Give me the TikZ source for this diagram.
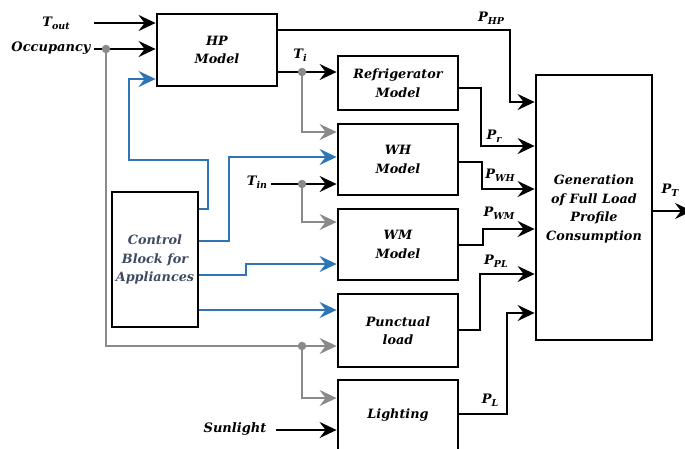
\documentclass[tikz,border=0pt]{standalone}
\usepackage{fontspec}
\setmainfont{DejaVu Serif}
\usetikzlibrary{arrows.meta}
\definecolor{cblue}{HTML}{2E75B6}
\definecolor{cgray}{HTML}{8A8A8A}
\definecolor{ctext}{HTML}{3E4A62}
\newcommand\sbs[1]{\raisebox{-0.45ex}{\fontsize{9.5}{9.5}\selectfont #1}}
\tikzset{
  box/.style={draw, line width=2.8pt, minimum width=120pt, align=center, inner sep=0pt,
    font=\fontsize{12.8}{18.5}\selectfont\bfseries\itshape},
  lbl/.style={inner sep=0pt, font=\fontsize{13}{14}\selectfont\bfseries\itshape},
  arr/.style={line width=2pt, -{Stealth[length=17pt,width=16pt,inset=6pt]}},
  plain/.style={line width=2pt},
  garr/.style={arr, draw=cgray, color=cgray},
  gline/.style={plain, draw=cgray},
  barr/.style={arr, draw=cblue, color=cblue},
  dotc/.style={circle, fill=cgray, inner sep=0pt, minimum size=8.5pt}
}
\begin{document}
\begin{tikzpicture}[x=1pt,y=-1pt]
\useasboundingbox (0,0) rectangle (685,448);
% boxes
\node[box, minimum height=72pt] (hp) at (217,50) {HP\\Model};
\node[box, minimum height=54pt] (fr) at (398,83) {Refrigerator\\Model};
\node[box, minimum height=71pt] (wh) at (398,159.5) {WH\\Model};
\node[box, minimum height=71pt] (wm) at (398,244.5) {WM\\Model};
\node[box, minimum height=73pt] (pl) at (398,330.5) {Punctual\\load};
\node[box, minimum height=70pt] (li) at (398,415) {Lighting};
\node[box, minimum width=116pt, minimum height=265pt, text depth=0pt] (gen) at (594,207.5) {Generation\\of Full Load\\Profile\\Consumption};
\node[box, minimum width=86pt, minimum height=135pt, text=ctext] (ctrl) at (155,259.5) {Control\\Block for\\Appliances};
% labels
\node[lbl] (tout) at (56,23) {T\sbs{out}};
\node[lbl] (occ) at (51,48) {Occupancy};
\node[lbl] (ti) at (300,55) {T\sbs{i}};
\node[lbl] (tin) at (257,182) {T\sbs{in}};
\node[lbl] (sun) at (235,429) {Sunlight};
\node[lbl] (php) at (491,18) {P\sbs{HP}};
\node[lbl] (pr) at (494,136) {P\sbs{r}};
\node[lbl] (pwh) at (500,175) {P\sbs{WH}};
\node[lbl] (pwm) at (499,213) {P\sbs{WM}};
\node[lbl] (ppl) at (496,261) {P\sbs{PL}};
\node[lbl] (pl2) at (490,400) {P\sbs{L}};
\node[lbl] (pt) at (670,190) {P\sbs{T}};
% junction coordinates
\coordinate (j1) at (106,49);
\coordinate (j2) at (302,346);
\coordinate (j3) at (302,72);
\coordinate (j4) at (302,184);
% gray lines
\draw[gline] (j1) -- (106,346) -- (j2);
\draw[garr] (j2) -- (j2 -| pl.west);
\draw[garr] (j2) |- (li.west |- 0,398);
\draw[garr] (j3) |- (wh.west |- 0,132);
\draw[garr] (j4) |- (wm.west |- 0,222);
% black inputs
\draw[arr] (94,23) -- (hp.west |- 0,23);
\draw[plain] (occ.east) ++(3,1) -- (j1);
\draw[arr] (j1) -- (j1 -| hp.west);
\draw[plain] (hp.east |- j3) -- (j3);
\draw[arr] (j3) -- (j3 -| fr.west);
\draw[plain] (tin.east) ++(4,2) -- (j4);
\draw[arr] (j4) -- (j4 -| wh.west);
\draw[arr] (sun.east) ++(9,1) -- (li.west |- 0,430);
% dots
\foreach \j in {j1,j2,j3,j4} \node[dotc] at (\j) {};
% blue control lines
\draw[barr] (ctrl.east |- 0,209) -- (208,209) -- (208,160) -- (129,160) -- (129,79) -- (hp.west |- 0,79);
\draw[barr] (ctrl.east |- 0,241) -- (229,241) -- (229,157) -- (wh.west |- 0,157);
\draw[barr] (ctrl.east |- 0,275) -- (246,275) -- (246,264) -- (wm.west |- 0,264);
\draw[barr] (ctrl.east |- 0,310) -- (pl.west |- 0,310);
% outputs
\draw[arr] (hp.east |- 0,30) -- (510,30) -- (510,102) -- (gen.west |- 0,102);
\draw[arr] (fr.east |- 0,88) -- (481,88) -- (481,146) -- (gen.west |- 0,146);
\draw[arr] (wh.east |- 0,162) -- (482,162) -- (482,189) -- (gen.west |- 0,189);
\draw[arr] (wm.east |- 0,245) -- (483,245) -- (483,229) -- (gen.west |- 0,229);
\draw[arr] (pl.east |- 0,330) -- (480,330) -- (480,274) -- (gen.west |- 0,274);
\draw[arr] (li.east |- 0,414) -- (507,414) -- (507,313) -- (gen.west |- 0,313);
\draw[arr] (gen.east |- 0,211) -- (692,211);
\end{tikzpicture}
\end{document}
